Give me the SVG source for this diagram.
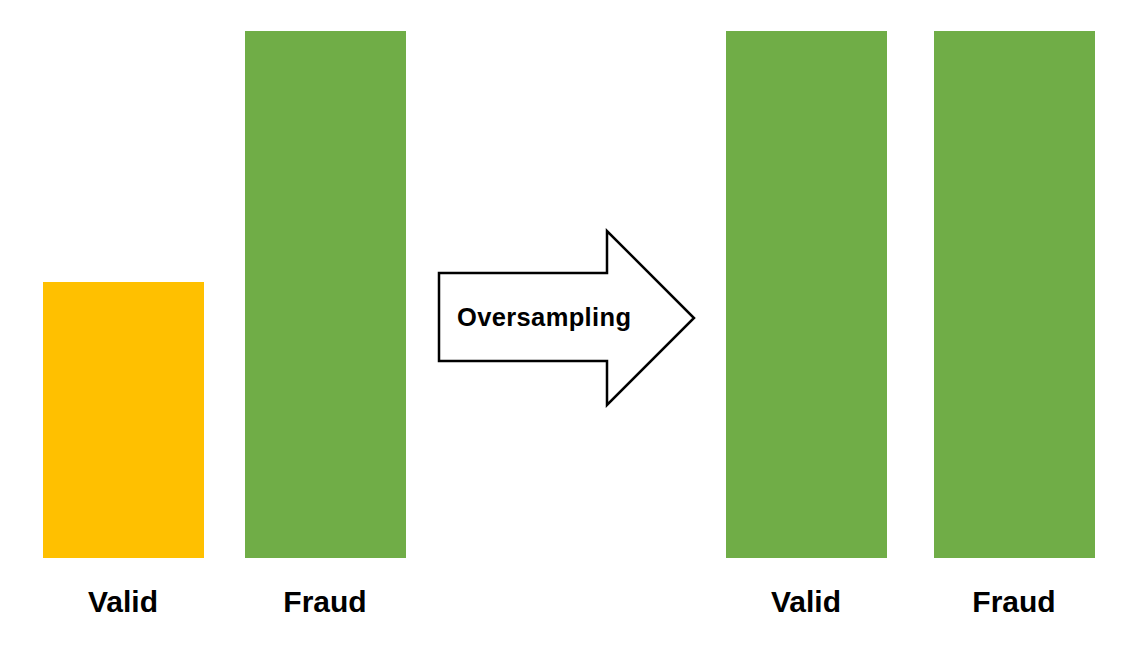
<svg xmlns="http://www.w3.org/2000/svg" width="1131" height="647" viewBox="0 0 1131 647">
<style>
.lbl{font-family:"Liberation Sans",Arial,sans-serif;font-weight:bold;font-size:30px;fill:#000;text-anchor:middle}
.green{fill:#70AD47}
.gold{fill:#FFC000}
</style>
<rect width="1131" height="647" fill="#fff"/>
<g id="before-valid">
<rect class="gold" x="43" y="282" width="161" height="276"/>
<text class="lbl" x="123" y="612">Valid</text>
</g>
<g id="before-fraud">
<rect class="green" x="245" y="31" width="161" height="527"/>
<text class="lbl" x="325" y="612">Fraud</text>
</g>
<g id="arrow">
<polygon points="439,273 607,273 607,231 694,318 607,405 607,361 439,361" fill="#fff" stroke="#000" stroke-width="2.5" stroke-linejoin="miter"/>
<text x="457" y="326" font-family="'Liberation Sans',Arial,sans-serif" font-weight="bold" font-size="25.5" textLength="174" lengthAdjust="spacing">Oversampling</text>
</g>
<g id="after-valid">
<rect class="green" x="726" y="31" width="161" height="527"/>
<text class="lbl" x="806" y="612">Valid</text>
</g>
<g id="after-fraud">
<rect class="green" x="934" y="31" width="161" height="527"/>
<text class="lbl" x="1014" y="612">Fraud</text>
</g>
<g id="connectors"></g>
</svg>
